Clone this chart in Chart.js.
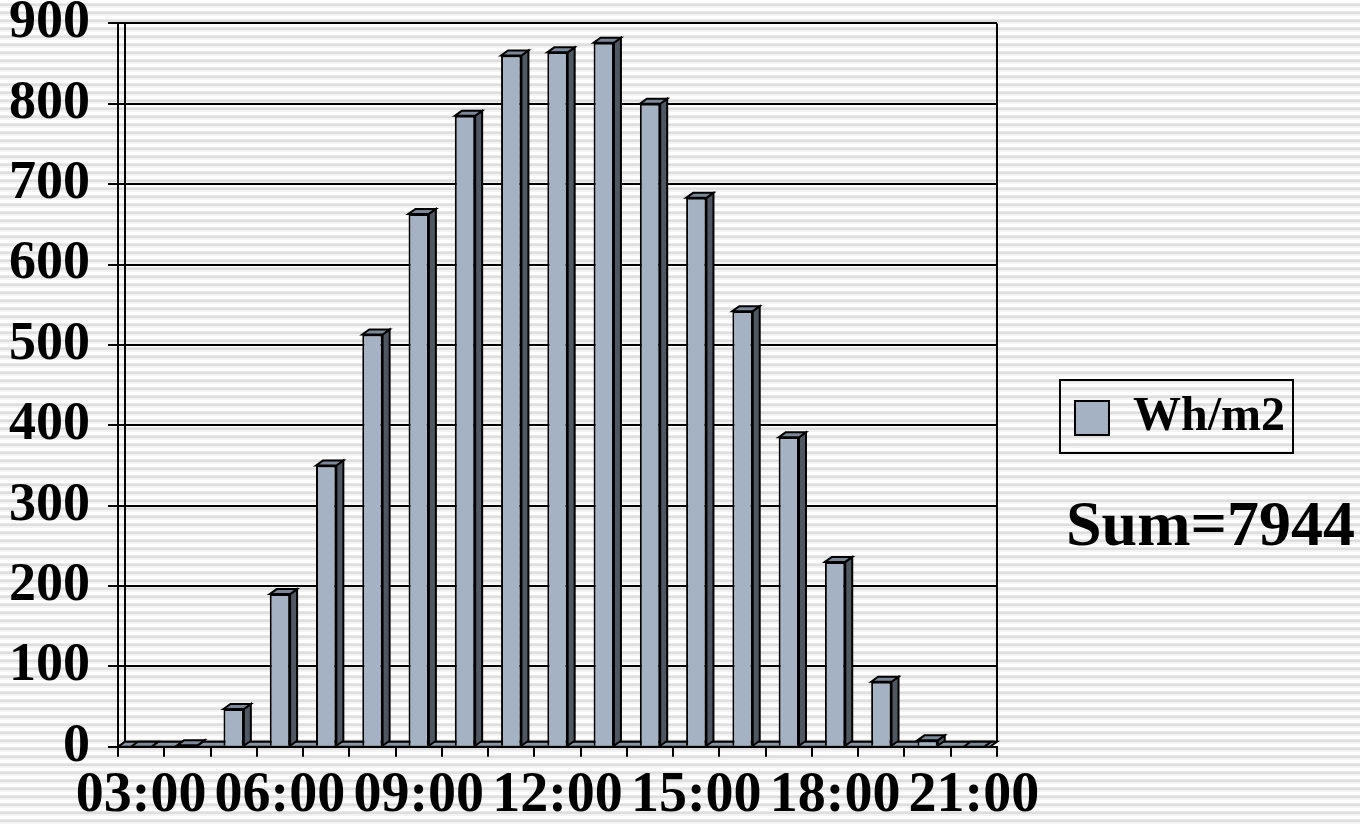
<!DOCTYPE html>
<html>
<head>
<meta charset="utf-8">
<script src="https://cdn.jsdelivr.net/npm/chart.js@4"></script>
<style>
  html, body { margin: 0; padding: 0; }
  body {
    width: 1360px; height: 825px; overflow: hidden;
    background: repeating-linear-gradient(to bottom,
      #ffffff 0px, #ffffff 3px, #e9e9e9 3px, #e9e9e9 4px,
      #dedede 4px, #dedede 6px, #f3f3f3 6px, #f3f3f3 8px);
  }
  #wrap { position: absolute; left: 0; top: 0; width: 1360px; height: 825px; }
</style>
</head>
<body>
<div id="wrap"><canvas id="sunChart"></canvas></div>
<script>
const hours  = ['03:00','04:00','05:00','06:00','07:00','08:00','09:00','10:00','11:00','12:00',
                '13:00','14:00','15:00','16:00','17:00','18:00','19:00','20:00','21:00'];
const whm2   = [0, 2, 47, 190, 350, 513, 663, 785, 860, 864, 876, 800, 683, 542, 385, 230, 81, 8, 0];
const yTicks = [0, 100, 200, 300, 400, 500, 600, 700, 800, 900];
const sumLabel = 'Sum=7944';

const FONT = "'Liberation Serif', 'Times New Roman', serif";
const FRONT = '#a4b2c3', SIDE = '#4f5763', TOP = '#7a8899';
const DX = 7, DY = 5;

// fake 3d columns: side + top faces drawn on top of the chart.js bars
const bar3d = {
  id: 'bar3d',
  afterDatasetsDraw(chart) {
    const ctx = chart.ctx;
    chart.getDatasetMeta(0).data.forEach(bar => {
      const {x, y, base, width} = bar.getProps(['x','y','base','width'], true);
      const l = x - width/2, r = x + width/2;
      ctx.save();
      ctx.lineWidth = 2; ctx.strokeStyle = '#000'; ctx.lineJoin = 'miter';
      ctx.beginPath();
      ctx.moveTo(r, base); ctx.lineTo(r+DX, base-DY); ctx.lineTo(r+DX, y-DY); ctx.lineTo(r, y);
      ctx.closePath(); ctx.fillStyle = SIDE; ctx.fill(); ctx.stroke();
      ctx.beginPath();
      ctx.moveTo(l, y); ctx.lineTo(l+DX, y-DY); ctx.lineTo(r+DX, y-DY); ctx.lineTo(r, y);
      ctx.closePath(); ctx.fillStyle = TOP; ctx.fill(); ctx.stroke();
      ctx.restore();
    });
  }
};

// wall lines, legend frame and the sum note
const frame = {
  id: 'frame',
  beforeDatasetsDraw(chart) {
    const {ctx, chartArea: a} = chart;
    ctx.save();
    ctx.strokeStyle = '#000'; ctx.lineWidth = 2;
    ctx.beginPath();
    ctx.moveTo(a.left + DX, a.top); ctx.lineTo(a.left + DX, a.bottom - DY);
    ctx.lineTo(a.right, a.bottom - DY);
    ctx.moveTo(a.left, a.bottom); ctx.lineTo(a.left + DX, a.bottom - DY);
    ctx.moveTo(a.right, a.top); ctx.lineTo(a.right, a.bottom - DY);
    ctx.stroke();
    ctx.fillStyle = '#8a96a6';
    ctx.beginPath();
    ctx.moveTo(a.left, a.bottom); ctx.lineTo(a.left + DX, a.bottom - DY);
    ctx.lineTo(a.right, a.bottom - DY); ctx.lineTo(a.right - DX, a.bottom);
    ctx.closePath(); ctx.fill(); ctx.stroke();
    ctx.restore();
  },
  afterDraw(chart) {
    const ctx = chart.ctx;
    const hb = chart.legend.legendHitBoxes[0];
    ctx.save();
    if (hb) {
      const cy = hb.top + hb.height/2;
      ctx.strokeStyle = '#000'; ctx.lineWidth = 2;
      ctx.strokeRect(hb.left - 15, cy - 38, hb.width + 23, 73);
    }
    ctx.fillStyle = '#000';
    ctx.font = 'bold 64px ' + FONT;
    ctx.textBaseline = 'alphabetic';
    ctx.fillText(sumLabel, 1066, 545);
    ctx.restore();
  }
};

new Chart(document.getElementById('sunChart'), {
  type: 'bar',
  data: {
    labels: hours,
    datasets: [{
      label: 'Wh/m2', data: whm2,
      backgroundColor: FRONT, borderColor: '#000', borderWidth: 2,
      borderSkipped: 'start',
      barPercentage: 0.88, categoryPercentage: 0.5
    }]
  },
  options: {
    responsive: true, maintainAspectRatio: false, animation: false,
    layout: {padding: {left: -9, top: 0, right: 65, bottom: -11}},
    plugins: {
      tooltip: {enabled: false},
      legend: {
        position: 'right',
        labels: {
          color: '#000', boxWidth: 34, boxHeight: 34, padding: 78,
          font: {family: FONT, size: 48, weight: 'bold'}
        }
      }
    },
    scales: {
      x: {
        grid: {drawOnChartArea: false, color: '#000', lineWidth: 2, tickLength: 10, tickWidth: 2},
        border: {color: '#000', width: 2},
        ticks: {
          color: '#000', autoSkip: false, maxRotation: 0, padding: 6,
          font: {family: FONT, size: 56, weight: 'bold', lineHeight: 1.2},
          callback: (v, i) => i % 3 === 0 ? hours[i] : ''
        }
      },
      y: {
        min: 0, max: 900,
        afterBuildTicks: s => { s.ticks = yTicks.map(v => ({value: v})); },
        grid: {color: '#000', lineWidth: 2, tickLength: 10, tickWidth: 2},
        border: {color: '#000', width: 2},
        ticks: {
          color: '#000', padding: 18,
          font: {family: FONT, size: 54, weight: 'bold', lineHeight: 0.2}
        }
      }
    }
  },
  plugins: [bar3d, frame]
});
</script>
</body>
</html>
